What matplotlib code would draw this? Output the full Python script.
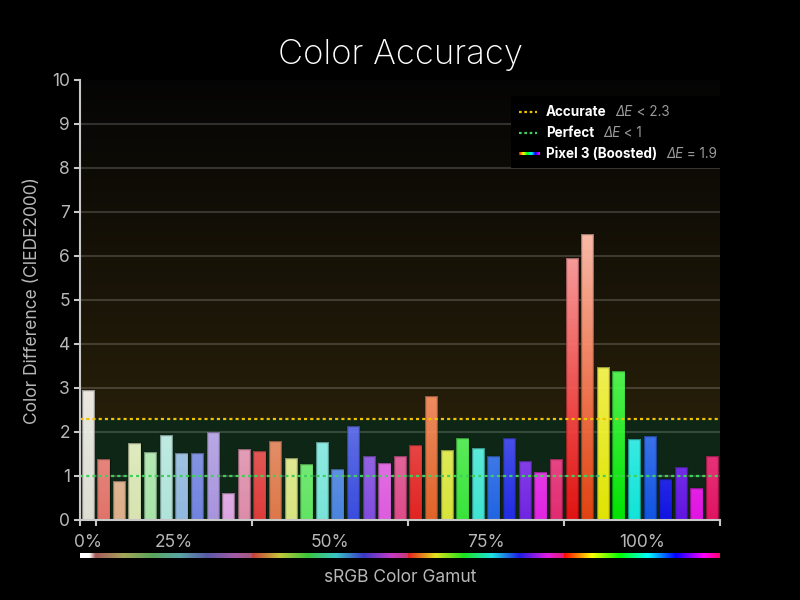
import colorsys
import numpy as np
import matplotlib
matplotlib.use("Agg")
import matplotlib.pyplot as plt
from matplotlib.colors import to_rgb
from matplotlib.lines import Line2D
from matplotlib.patches import Rectangle

plt.rcParams['font.family'] = ['Inter', 'DejaVu Sans']

# ---------------- data ----------------
group_labels = ['0%', '25%', '50%', '75%', '100%']
group_label_pos = [0, 5.5, 15.5, 25.5, 35.5]
group_bounds = [-0.5, 0.5, 10.5, 20.5, 30.5, 40.5]

delta_e = [2.95, 1.39, 0.88, 1.74, 1.55, 1.93, 1.52, 1.52, 2.00, 0.61, 1.61,
           1.57, 1.79, 1.40, 1.27, 1.77, 1.15, 2.13, 1.45, 1.30, 1.45,
           1.70, 2.81, 1.60, 1.86, 1.64, 1.45, 1.86, 1.33, 1.08, 1.39,
           5.95, 6.49, 3.47, 3.38, 1.84, 1.91, 0.93, 1.20, 0.73, 1.45]

bar_colors = ['#fbf8ee',
              '#ff7f76', '#fac29a', '#f5ffc8', '#bfffbf', '#c8fff5',
              '#a4cdfa', '#7f91fa', '#bfa4fa', '#fabaff', '#fa9bbf',
              '#fa4040', '#fa8452', '#f5ff91', '#6dff6d', '#88fff5',
              '#5491fa', '#4052fa', '#9152fa', '#fa64fa', '#fa529b',
              '#ff2424', '#ff6d2d', '#f5ff40', '#40ff40', '#48ffec',
              '#246dff', '#242dff', '#7f24ff', '#ff24ff', '#ff2d7f',
              '#ff1212', '#ff4812', '#ffff00', '#00ff00', '#12fff5',
              '#125bff', '#1212ff', '#6d12ff', '#ff12ff', '#ff126d']

accurate_level = 2.3
perfect_level = 1.0
average_de = 1.9

x = np.arange(len(delta_e))

# ---------------- figure ----------------
fig = plt.figure(figsize=(8, 6), dpi=100, facecolor='black')
ax = fig.add_axes([0.1, 1 - 520 / 600, 0.8, 440 / 600])
ax.set_facecolor('black')

# background gradient
ys = np.linspace(0, 10, 1000)
bg = np.zeros((len(ys), 1, 3))
green = np.array([0.056, 0.150, 0.086])
brown = np.array([0.150, 0.118, 0.035])
dark = np.array([0.018, 0.018, 0.018])
for i, yv in enumerate(ys):
    if yv < accurate_level:
        bg[i, 0] = green
    else:
        t = min((yv - accurate_level) / 7.7, 1.0)
        bg[i, 0] = brown * (1 - t) + dark * t
ax.imshow(bg, extent=(-0.5, 40.5, 0, 10), origin='lower', aspect='auto',
          zorder=0, interpolation='bilinear')

# grid lines
ax.hlines(np.arange(1, 10), -0.5, 40.5, colors=[(1, 1, 1, 0.17)], lw=1.5, zorder=1)

# bars with vertical gradient
bars = ax.bar(x, delta_e, width=0.79, color='none',
              edgecolor=(0, 0, 0, 0.35), linewidth=1.0, zorder=3)
for rect, c, h in zip(bars, bar_colors, delta_e):
    base = np.array(to_rgb(c))
    t = np.linspace(0, 1, 64)[:, None]
    mix = np.clip(0.1 * h * t, 0, 0.7)
    cols = base * (1 - mix) + mix
    alpha = np.clip(0.88 + 0.015 * h * t, 0, 0.98)
    img = np.concatenate([cols, alpha], axis=1)[:, None, :]
    im = ax.imshow(img, extent=(rect.get_x(), rect.get_x() + rect.get_width(), 0, h),
                   origin='lower', aspect='auto', zorder=2.5, interpolation='bilinear')
    im.set_clip_path(rect)

# threshold lines
ax.axhline(accurate_level, color='#f2c200', ls=(0, (1.4, 1.4)), lw=1.6, zorder=5)
ax.axhline(perfect_level, color='#3fcf5a', ls=(0, (1.4, 1.4)), lw=1.6, zorder=5)

ax.set_xlim(-0.5, 40.5)
ax.set_ylim(0, 10)

# axes styling
for s in ['top', 'right']:
    ax.spines[s].set_visible(False)
for s in ['left', 'bottom']:
    ax.spines[s].set_color('#c8c8c8')
    ax.spines[s].set_linewidth(1.5)
    ax.spines[s].set_zorder(6)

ax.set_yticks(range(11))
ax.tick_params(axis='y', length=4.3, width=1.5, color='#c8c8c8',
               labelcolor='#b8b8b8', labelsize=12.5, pad=3)
ax.set_xticks(group_label_pos, labels=group_labels)
ax.set_xticks(group_bounds, minor=True)
ax.tick_params(axis='x', which='major', length=0, pad=10,
               labelcolor='#b8b8b8', labelsize=12.5)
ax.tick_params(axis='x', which='minor', length=4.5, width=1.5, color='#c8c8c8')

# sRGB gradient strip
npx = 800
strip = np.zeros((1, npx, 3))
sats = [0.3, 0.55, 0.78, 1.0]
gray = np.array([0.5, 0.5, 0.5])
for j in range(npx):
    p = (j + 0.5) / npx * 41  # position in bar units from left edge
    if p < 1.0:
        w = np.clip((p - 0.6) / 0.4, 0, 1)
        start = gray * (1 - sats[0]) + np.array(colorsys.hsv_to_rgb(0, 1, 1)) * sats[0]
        strip[0, j] = np.array([1, 1, 1]) * (1 - w) + start * w
    else:
        g = min(int((p - 1) // 10), 3)
        u = ((p - 1) - 10 * g) / 10
        pure = np.array(colorsys.hsv_to_rgb(0.93 * u, 1, 1))
        strip[0, j] = gray * (1 - sats[g]) + pure * sats[g]
sax = fig.add_axes([0.1, 1 - 558 / 600, 0.8, 5 / 600])
sax.imshow(strip, aspect='auto', interpolation='bilinear')
sax.axis('off')

# titles and labels
fig.text(0.5, 1 - 55 / 600, 'Color Accuracy', ha='center', va='center',
         color='white', fontsize=25, fontweight='light')
fig.text(0.5, 1 - 578 / 600, 'sRGB Color Gamut', ha='center', va='center',
         color='#b8b8b8', fontsize=12.5)
fig.text(33 / 800, 1 - 301 / 600, 'Color Difference (CIEDE2000)', ha='center',
         va='center', rotation=90, color='#b8b8b8', fontsize=12.5)

# legend
fig.add_artist(Rectangle((511 / 800, 1 - 167.5 / 600), 209 / 800, 72 / 600,
                         transform=fig.transFigure, facecolor='black',
                         edgecolor='none', zorder=1))
renderer = fig.canvas.get_renderer()
rows = [('Accurate', ' < 2.3', 112), ('Perfect', ' < 1', 133),
        ('Pixel 3 (Boosted)', ' = 1.9', 154)]
for k, (name, rest, ypx) in enumerate(rows):
    yf = 1 - ypx / 600
    if k == 0:
        fig.add_artist(Line2D([519 / 800, 537 / 800], [yf, yf], color='#f2c200',
                              ls=(0, (1.2, 1.2)), lw=1.6, zorder=3))
    elif k == 1:
        fig.add_artist(Line2D([519 / 800, 537 / 800], [yf, yf], color='#3fcf5a',
                              ls=(0, (1.2, 1.2)), lw=1.6, zorder=3))
    else:
        rb = np.array([[colorsys.hsv_to_rgb(0.85 * i / 63, 1, 1) for i in range(64)]])
        lax = fig.add_axes([519 / 800, yf - 1.5 / 600, 21 / 800, 3 / 600], zorder=3)
        lax.imshow(rb, aspect='auto', interpolation='bilinear')
        lax.axis('off')
    t1 = fig.text(546 / 800, yf, name, ha='left', va='center', color='white',
                  fontsize=9.7, fontweight='bold', zorder=4)
    bb = t1.get_window_extent(renderer)
    t2 = fig.text((bb.x1 + 9) / 800, yf, 'ΔE', ha='left', va='center',
                  color='#9a9a9a', fontsize=9.7, style='italic', zorder=4)
    bb2 = t2.get_window_extent(renderer)
    fig.text(bb2.x1 / 800, yf, rest, ha='left', va='center',
             color='#9a9a9a', fontsize=9.7, zorder=4)

fig.savefig('out.png', dpi=100, facecolor='black')
